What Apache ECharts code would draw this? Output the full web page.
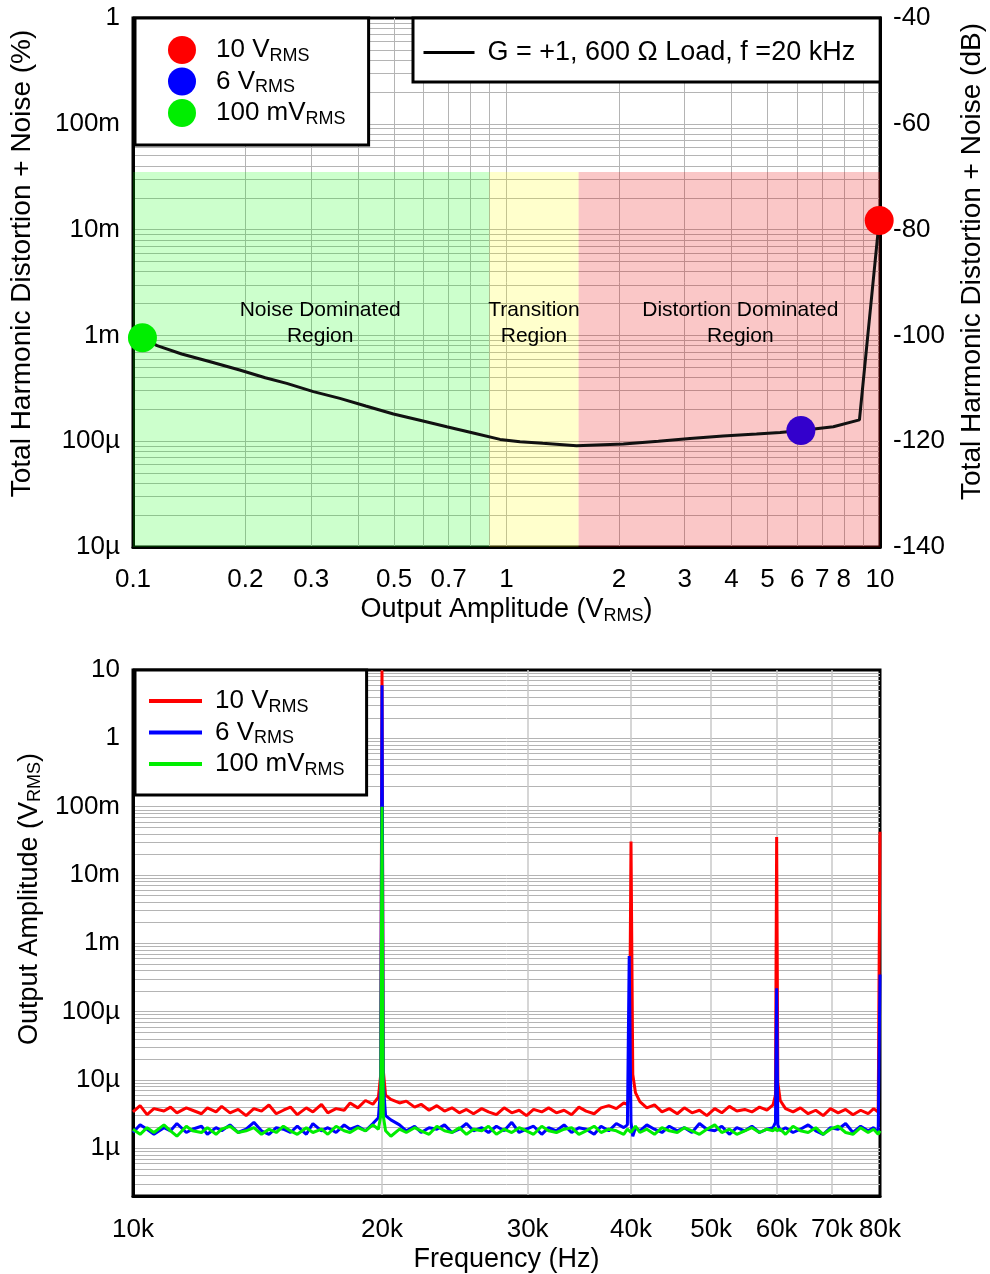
<!DOCTYPE html>
<html><head><meta charset="utf-8">
<script src="https://cdn.jsdelivr.net/npm/echarts@6/dist/echarts.min.js"></script>
<style>html,body{margin:0;padding:0;background:#fff}#c{width:990px;height:1274px}</style>
</head><body><div id="c"></div>
<script>
// ---------- Top panel data: THD+N (%) vs output amplitude (Vrms) ----------
const thdX = [0.106, 0.116, 0.135, 0.161, 0.193, 0.226, 0.258, 0.304, 0.358, 0.42, 0.498, 0.59, 0.692, 0.82, 0.961, 1.087, 1.25, 1.54, 2.055, 2.55, 3.10, 3.8, 4.67, 5.4, 6.14, 7.5, 8.81, 9.95];
const thdY = [0.00095, 0.00080, 0.000667, 0.000564, 0.000471, 0.000398, 0.000352, 0.000294, 0.000254, 0.000215, 0.000181, 0.000157, 0.000137, 0.000119, 0.000104, 0.0000989, 0.0000955, 0.0000908, 0.0000941, 0.0001, 0.000106, 0.000112, 0.000117, 0.000121, 0.000126, 0.000137, 0.000159, 0.0122];
const markerNames = ['10 V', '6 V', '100 mV'];
const markerX = [9.95, 6.14, 0.106];
const markerY = [0.0122, 0.000126, 0.00095];
const regionEdges = [0.1, 0.9, 1.56, 10];
const regionTop = 0.035;
const regionBottom = 0.00001;
const regionNames = ['Noise Dominated\nRegion', 'Transition\nRegion', 'Distortion Dominated\nRegion'];
const thdTickValues = [0.00001, 0.0001, 0.001, 0.01, 0.1, 1];
const thdTickLabels = ['10µ', '100µ', '1m', '10m', '100m', '1'];
const ampTickValues = [0.1, 0.2, 0.3, 0.5, 0.7, 1, 2, 3, 4, 5, 6, 7, 8, 10];
const dbTicks = [-140, -120, -100, -80, -60, -40];

// ---------- Bottom panel data: FFT spectrum (frequency in kHz, amplitude in µVrms) ----------
const freqK = [
  10.0, 10.2, 10.4, 10.6, 10.9, 11.1, 11.3, 11.6, 11.8, 12.1,
  12.3, 12.6, 12.8, 13.1, 13.4, 13.7, 14.0, 14.3, 14.6, 14.9,
  15.2, 15.5, 15.8, 16.2, 16.5, 16.9, 17.2, 17.6, 18.0, 18.3,
  18.7, 19.1, 19.5, 19.8, 19.93, 20.0, 20.07, 20.2, 20.5, 21.0,
  21.4, 21.9, 22.3, 22.8, 23.3, 23.8, 24.3, 24.8, 25.3, 25.8,
  26.4, 26.9, 27.5, 28.1, 28.7, 29.3, 29.9, 30.5, 31.2, 31.8,
  32.5, 33.2, 33.9, 34.6, 35.3, 36.1, 36.8, 37.6, 38.4, 39.2,
  39.6, 39.8, 40.0, 40.2, 40.5, 41.0, 41.8, 42.7, 43.6, 44.5,
  45.5, 46.4, 47.4, 48.4, 49.4, 50.5, 51.5, 52.6, 53.7, 54.9,
  56.0, 57.2, 58.4, 59.4, 59.8, 60.0, 60.2, 60.6, 61.5, 62.8,
  64.1, 65.5, 66.9, 68.3, 69.7, 71.2, 72.7, 74.2, 75.8, 77.4,
  78.6, 79.6, 80.0
];
const red10V = [
  3.4, 4.2, 3.1, 3.8, 3.5, 4.0, 3.3, 3.9, 3.6, 3.2,
  3.9, 3.4, 4.1, 3.3, 3.7, 3.0, 3.8, 3.5, 4.3, 3.2,
  3.6, 4.0, 3.1, 3.9, 3.4, 4.4, 3.3, 3.8, 3.6, 4.6,
  3.9, 5.0, 4.4, 5.6, 12, 9800000, 14, 6.0, 5.2, 4.6,
  4.9, 4.0, 4.4, 3.6, 4.2, 3.5, 3.9, 3.3, 3.7, 3.2,
  3.8, 3.4, 3.1, 3.9, 3.3, 3.6, 3.0, 3.7, 3.4, 3.9,
  3.3, 3.6, 3.1, 4.0, 3.5, 3.2, 3.9, 4.2, 3.8, 4.6,
  4.4, 5.5, 31000, 12, 6.5, 4.8, 3.9, 4.3, 3.4, 3.8,
  3.2, 3.9, 3.3, 3.6, 3.0, 3.8, 3.3, 4.1, 3.5, 3.7,
  3.4, 4.0, 3.6, 4.3, 6.0, 36000, 9.0, 5.0, 3.8, 3.4,
  3.9, 3.2, 3.6, 3.0, 3.8, 3.3, 3.7, 3.1, 3.6, 3.2,
  3.8, 3.4, 43000
];
const blue6V = [
  1.7, 2.2, 1.9, 1.6, 2.0, 1.8, 2.3, 1.7, 1.9, 2.1,
  1.6, 2.0, 1.8, 2.2, 1.7, 1.9, 2.4, 1.8, 1.6, 2.0,
  1.9, 1.7, 2.1, 1.6, 2.3, 1.8, 2.0, 1.7, 2.2, 1.9,
  2.1, 1.8, 2.3, 2.8, 8, 6000000, 9, 3.0, 2.6, 2.2,
  1.8, 2.1, 1.7, 2.0, 1.9, 2.2, 1.7, 1.9, 2.3, 1.8,
  2.0, 1.7, 2.1, 1.8, 2.4, 1.7, 1.9, 2.1, 1.6, 2.0,
  1.8, 2.2, 1.7, 2.0, 1.9, 1.6, 2.1, 1.8, 2.3, 2.0,
  2.2, 650, 2.4, 1.5, 2.0, 1.8, 2.2, 1.9, 1.7, 2.1,
  1.8, 2.0, 1.7, 2.3, 1.9, 1.8, 2.1, 1.6, 2.0, 1.8,
  2.1, 1.7, 1.9, 2.0, 2.4, 220, 2.2, 1.8, 2.0, 1.7,
  1.9, 2.2, 1.8, 1.6, 2.0, 1.9, 2.3, 1.7, 2.1, 1.8,
  2.0, 1.7, 350
];
const green100mV = [
  1.9, 1.6, 2.0, 1.7, 2.2, 1.8, 1.5, 2.1, 1.8, 1.7,
  2.0, 1.6, 1.9, 2.1, 1.7, 1.8, 2.0, 1.6, 1.9, 1.7,
  2.1, 1.8, 1.6, 2.0, 1.7, 1.9, 1.6, 2.1, 1.8, 1.7,
  2.0, 1.8, 2.2, 1.9, 3, 100000, 3, 1.8, 1.5, 1.9,
  1.7, 2.0, 1.8, 1.6, 2.1, 1.8, 1.7, 2.0, 1.6, 1.9,
  1.8, 2.1, 1.6, 1.9, 1.7, 2.0, 1.8, 1.6, 2.1, 1.8,
  1.7, 1.9, 2.0, 1.6, 1.8, 2.1, 1.7, 1.9, 1.8, 1.6,
  1.9, 2.0, 1.7, 1.8, 2.1, 1.7, 1.9, 1.6, 2.0, 1.8,
  1.7, 2.0, 1.8, 1.6, 1.9, 2.2, 1.7, 1.9, 1.6, 1.8,
  2.0, 1.7, 1.9, 1.8, 2.0, 1.8, 1.7, 1.9, 1.6, 2.1,
  1.8, 1.7, 2.0, 1.6, 1.9, 2.1, 1.7, 1.6, 2.0, 1.7,
  1.9, 1.6, 1.8
];
const specNames = ['10 V', '6 V', '100 mV'];
const ampTickValuesUV = [1, 10, 100, 1000, 10000, 100000, 1000000, 10000000];
const ampTickLabels = ['1µ', '10µ', '100µ', '1m', '10m', '100m', '1', '10'];
const freqTickValues = [10, 20, 30, 40, 50, 60, 70, 80];

// ---------- helpers ----------
const FF = "'Liberation Sans', Arial, Helvetica, sans-serif";
const rich = {
  a: { fontSize: 27, fontFamily: FF, color: '#000', lineHeight: 30 },
  y: { fontSize: 28, fontFamily: FF, color: '#000', lineHeight: 30 },
  p: { fontSize: 26, fontFamily: FF, color: '#000', lineHeight: 30, padding: [0, 0, 0, 15] },
  q: { fontSize: 26, fontFamily: FF, color: '#000', lineHeight: 30, padding: [0, 0, 0, 8] },
  g: { fontSize: 27, fontFamily: FF, color: '#000', lineHeight: 30, padding: [0, 0, 0, 8] },
  s: { fontSize: 18, fontFamily: FF, color: '#000', lineHeight: 18, verticalAlign: 'bottom' }
};
function minorGrid(minV, maxV, eFrom, eTo) {
  const out = [];
  for (let e = eFrom; e <= eTo; e++) {
    for (let m = 1; m <= 9; m++) {
      const v = parseFloat((m * Math.pow(10, e)).toPrecision(6));
      if (v > minV * 1.0001 && v < maxV * 0.9999) out.push(v);
    }
  }
  return out;
}
function labelFrom(values, labels) {
  return function (v) {
    for (let i = 0; i < values.length; i++) {
      if (Math.abs(Math.log10(v) - Math.log10(values[i])) < 1e-6) return labels[i];
    }
    return '';
  };
}
const gridLine = { show: true, lineStyle: { color: '#b4b4b4', width: 1 } };
const axisText = { fontSize: 26, fontFamily: FF, color: '#000' };

const topLegendNames = markerNames.map(n => n + ' ');
const markerColors = ['#ff0000', '#3300cc', '#00ee00'];
const legendIconColors = ['#ff0000', '#0000ff', '#00ee00'];
const specColors = ['#ff0000', '#0000ff', '#00ee00'];
const curveName = 'G = +1, 600 Ω Load, f =20 kHz';

const series = [];
series.push({
  name: curveName, type: 'line', xAxisIndex: 0, yAxisIndex: 0,
  data: thdX.map((x, i) => [x, thdY[i]]),
  symbol: 'none', lineStyle: { color: '#111', width: 3 }, itemStyle: { color: '#111' }, z: 3,
  markArea: {
    silent: true,
    data: regionNames.map((nm, i) => [
      { name: nm, xAxis: regionEdges[i], yAxis: regionBottom,
        itemStyle: { color: ['rgba(0,255,0,0.2)', 'rgba(255,255,0,0.2)', 'rgba(230,0,0,0.22)'][i] },
        label: { offset: [[9, -36], [0, -36], [11, -36]][i] } },
      { xAxis: regionEdges[i + 1], yAxis: regionTop }
    ]),
    label: { show: true, position: 'inside', color: '#000', fontSize: 21, lineHeight: 26, fontFamily: FF, align: 'center' }
  }
});
markerNames.forEach((n, i) => {
  series.push({
    name: topLegendNames[i], type: 'scatter', xAxisIndex: 0, yAxisIndex: 0,
    data: [[markerX[i], markerY[i]]], symbol: 'circle', symbolSize: 29,
    itemStyle: { color: markerColors[i], opacity: 1 }, z: 5
  });
});
const specData = [red10V, blue6V, green100mV];
specNames.forEach((n, i) => {
  series.push({
    name: n, type: 'line', xAxisIndex: 1, yAxisIndex: 2,
    data: freqK.map((f, j) => [f, specData[i][j]]),
    symbol: 'none', lineStyle: { color: specColors[i], width: 3 }, itemStyle: { color: specColors[i] },
    z: 3 + i
  });
});

const option = {
  animation: false,
  backgroundColor: '#fff',
  textStyle: { fontFamily: FF },
  grid: [
    { left: 133, right: 110, top: 18, height: 529, show: true, borderColor: '#000', borderWidth: 3, backgroundColor: 'transparent', containLabel: false, outerBoundsMode: 'none' },
    { left: 133, right: 110, top: 670, height: 526, show: true, borderColor: '#000', borderWidth: 3, backgroundColor: 'transparent', containLabel: false, outerBoundsMode: 'none' }
  ],
  legend: [
    {
      data: topLegendNames.map((n, i) => ({ name: n, icon: 'circle', itemStyle: { color: legendIconColors[i] } })),
      orient: 'vertical', left: 135, top: 18, itemWidth: 28, itemHeight: 28, itemGap: 2.5,
      padding: [18, 23, 17, 33], borderColor: '#000', borderWidth: 3, backgroundColor: '#fff',
      formatter: n => '{p|' + n.trim() + '}{s|RMS}', textStyle: { rich: rich }, selectedMode: false, z: 10
    },
    {
      data: [{ name: curveName, itemStyle: { color: '#000' } }], orient: 'vertical', left: 413, top: 18, itemWidth: 51, itemHeight: 3,
      padding: [21, 25, 16, 9], borderColor: '#000', borderWidth: 3, backgroundColor: '#fff',
      formatter: n => '{g|' + n + '}', textStyle: { rich: rich }, selectedMode: false, z: 10,
      lineStyle: { width: 3, color: '#000' }
    },
    {
      data: specNames, orient: 'vertical', left: 135, top: 670, itemWidth: 53, itemHeight: 4, itemGap: 3.5,
      padding: [18, 22, 16, 12], borderColor: '#000', borderWidth: 3, backgroundColor: '#fff',
      formatter: n => '{q|' + n + '}{s|RMS}', textStyle: { rich: rich }, selectedMode: false, z: 10,
      lineStyle: { width: 4 }
    }
  ],
  xAxis: [
    {
      type: 'log', logBase: 10, gridIndex: 0, min: 0.1, max: 10,
      axisLine: { show: true, lineStyle: { color: '#000', width: 3 } },
      axisTick: { show: false, customValues: minorGrid(0.1, 10, -1, 0) },
      axisLabel: Object.assign({ customValues: ampTickValues, margin: 20, formatter: v => String(parseFloat(v.toPrecision(3))) }, axisText),
      splitLine: gridLine,
      name: '{a|Output Amplitude (V}{s|RMS}{a|)}', nameLocation: 'middle', nameGap: 48,
      nameTextStyle: { rich: rich }
    },
    {
      type: 'log', logBase: 10, gridIndex: 1, min: 10, max: 80,
      axisLine: { show: true, lineStyle: { color: '#000', width: 3 } },
      axisTick: { show: false, customValues: [20, 30, 40, 50, 60, 70] },
      axisLabel: Object.assign({ customValues: freqTickValues, margin: 21, formatter: v => Math.round(v) + 'k' }, axisText),
      splitLine: { show: true, lineStyle: { color: '#c8c8c8', width: 1.5 } },
      name: '{a|Frequency (Hz)}', nameLocation: 'middle', nameGap: 49,
      nameTextStyle: { rich: rich }
    }
  ],
  yAxis: [
    {
      type: 'log', logBase: 10, gridIndex: 0, min: 0.00001, max: 1,
      axisLine: { show: true, lineStyle: { color: '#000', width: 3 } },
      axisTick: { show: false, customValues: minorGrid(0.00001, 1, -5, -1) },
      axisLabel: Object.assign({ customValues: thdTickValues, margin: 13, formatter: labelFrom(thdTickValues, thdTickLabels) }, axisText),
      splitLine: gridLine,
      name: '{y|Total Harmonic Distortion + Noise (%)}', nameLocation: 'middle', nameGap: 96, nameRotate: 90,
      nameTextStyle: { rich: rich, padding: [0, 0, 0, 38] }
    },
    {
      type: 'value', gridIndex: 0, position: 'right', min: -140, max: -40, interval: 20,
      axisLine: { show: true, lineStyle: { color: '#000', width: 3 } },
      axisTick: { show: false },
      axisLabel: Object.assign({ margin: 13, customValues: dbTicks }, axisText),
      splitLine: { show: false },
      name: '{y|Total Harmonic Distortion + Noise (dB)}', nameLocation: 'middle', nameGap: 77, nameRotate: 90,
      nameTextStyle: { rich: rich, padding: [0, 0, 0, 42] }
    },
    {
      type: 'log', logBase: 10, gridIndex: 1, min: 0.2, max: 10000000,
      axisLine: { show: true, lineStyle: { color: '#000', width: 3 } },
      axisTick: { show: false, customValues: minorGrid(0.2, 10000000, -1, 6) },
      axisLabel: Object.assign({ customValues: ampTickValuesUV, margin: 13, formatter: labelFrom(ampTickValuesUV, ampTickLabels) }, axisText),
      splitLine: gridLine,
      name: '{a|Output Amplitude (V}{s|RMS}{a|)}', nameLocation: 'middle', nameGap: 85, nameRotate: 90,
      nameTextStyle: { rich: rich, padding: [0, 0, 0, 68] }
    }
  ],
  series: series
};
const chart = echarts.init(document.getElementById('c'), null, { renderer: 'canvas' });
chart.setOption(option);
</script></body></html>
